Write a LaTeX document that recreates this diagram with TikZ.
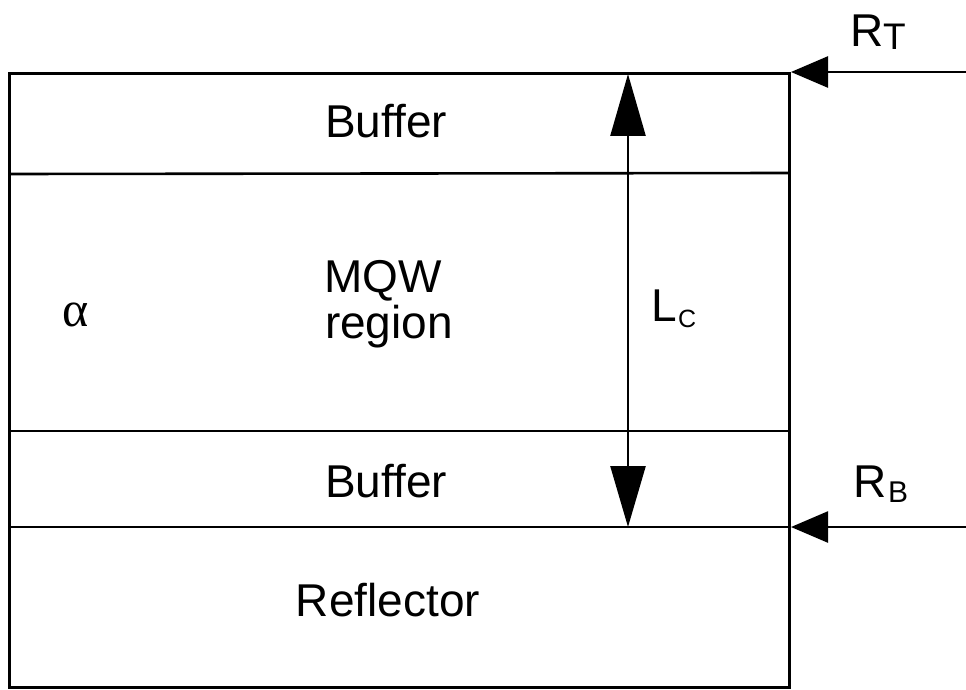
\documentclass[tikz,border=0pt]{standalone}
\usepackage{fontspec}
\setmainfont{Liberation Sans}
\newfontfamily\serifgreek{Liberation Serif}
\usetikzlibrary{arrows.meta}
\begin{document}
\begin{tikzpicture}[x=1pt,y=-1pt,
  frame/.style={line width=3pt},
  layerline/.style={line width=2.6pt},
  lbl/.style={inner sep=0pt,anchor=base,font=\fontsize{46}{46}\selectfont},
  sym/.style={inner sep=0pt,anchor=base west,font=\fontsize{46}{46}\selectfont},
  subs/.style={inner sep=0pt,anchor=base west},
  dimarrow/.style={line width=2.5pt,{Triangle[length=62pt,width=35pt]}-{Triangle[length=61pt,width=35pt]}},
  inarrow/.style={line width=2.5pt,-{Triangle[length=37pt,width=31pt]}}]
\useasboundingbox (0,0) rectangle (966,690);
% frame and layer boundaries
\coordinate (tl) at (9,74);
\coordinate (br) at (789,687);
\draw[frame] (tl) rectangle (br);
\coordinate (l1a) at (9,174);  \coordinate (l1b) at (789,173);
\coordinate (l2a) at (9,431);  \coordinate (l2b) at (789,431);
\coordinate (l3a) at (9,527);  \coordinate (l3b) at (789,527);
\draw[layerline] (l1a) -- (l1b);
\draw[layerline] (l2a) -- (l2b);
\draw[layerline] (l3a) -- (l3b);
% labels
\node[lbl] (buf1) at (386,138) {Buffer};
\node[lbl] (mqw) at (383,292) {MQW};
\node[lbl] (reg) at (389,338) {region};
\node[lbl] (buf2) at (386,497) {Buffer};
\node[lbl] (refl) at (388,616) {Reflector};
\node[inner sep=0pt,font=\serifgreek\fontsize{50}{50}\selectfont] (alpha) at (76,315) {α};
% cavity length arrow
\coordinate (ctop) at (628,74);
\coordinate (cbot) at (628,527);
\draw[dimarrow] (ctop) -- (cbot);
\node[sym] (L) at (651,321) {L};
\node[subs,font=\fontsize{25}{25}\selectfont] (Lc) at (678,327) {C};
% incident arrows
\coordinate (rtstart) at (966,72);
\coordinate (rttip) at (791,72);
\draw[inarrow] (rtstart) -- (rttip);
\coordinate (rbstart) at (966,527);
\coordinate (rbtip) at (791,527);
\draw[inarrow] (rbstart) -- (rbtip);
\node[sym] (RT) at (850,47) {R};
\node[subs,font=\fontsize{37}{37}\selectfont] (RTs) at (883,50) {T};
\node[sym] (RB) at (853,497) {R};
\node[subs,font=\fontsize{30}{30}\selectfont] (RBs) at (888,502) {B};
\end{tikzpicture}
\end{document}
